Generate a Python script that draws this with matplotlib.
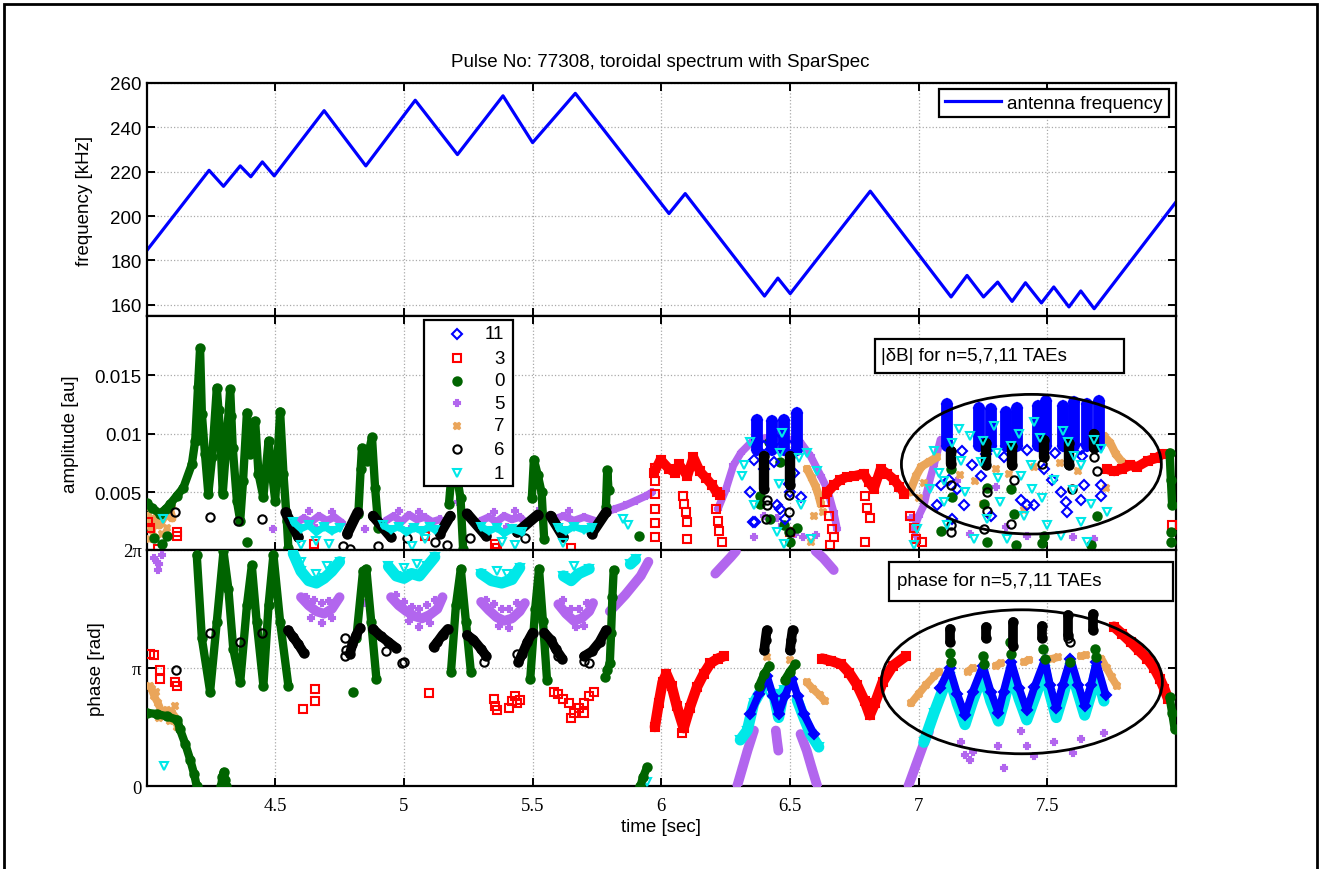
import numpy as np
import matplotlib.pyplot as plt
from matplotlib.patches import Ellipse, Rectangle

plt.rcParams['font.family'] = ['Liberation Sans', 'DejaVu Sans']
SERIF = ['Liberation Serif', 'DejaVu Serif']
FS = 13.5

# ---------------- antenna frequency sweep [kHz] ----------------
ant_time = [4.000, 4.243, 4.299, 4.364, 4.405, 4.450, 4.496, 4.690, 4.852, 5.044, 5.208, 5.385,
            5.500, 5.666, 6.030, 6.093, 6.401, 6.453, 6.501, 6.812, 7.126, 7.188, 7.252, 7.307,
            7.363, 7.415, 7.477, 7.525, 7.584, 7.630, 7.682, 7.997]
ant_freq = [184.3, 220.6, 213.4, 222.6, 217.7, 224.4, 218.1, 247.5, 222.6, 252.2, 227.7, 254.2,
            233.1, 255.3, 201.1, 210.1, 163.9, 172.0, 165.0, 211.2, 163.5, 173.2, 163.5, 170.2,
            161.5, 169.9, 160.8, 168.0, 159.0, 166.2, 158.2, 205.9]

# ---------------- |dB| amplitude, (time, amplitude) ----------------
amp0_tracks = [
    [(4.0, .0041), (4.02, .0037), (4.052, .0032), (4.075, .0036), (4.091, .0040), (4.117, .0047),
     (4.143, .0054), (4.176, .0074), (4.189, .0094), (4.200, .0140), (4.208, .0173), (4.215, .0117),
     (4.227, .0083), (4.240, .0049), (4.255, .0080), (4.273, .0139), (4.286, .0102), (4.296, .0049),
     (4.310, .0090), (4.325, .0138), (4.335, .0088), (4.351, .0043), (4.364, .0026), (4.375, .0060),
     (4.390, .0118), (4.402, .0083), (4.422, .0111), (4.435, .0066), (4.454, .0046), (4.474, .0094),
     (4.487, .0068), (4.500, .0043), (4.519, .0119), (4.532, .0066), (4.545, .0026), (4.551, .0003)],
    [(4.823, .0032), (4.832, .0070), (4.837, .0088), (4.856, .0077), (4.876, .0097), (4.888, .0054),
     (4.901, .0020)],
    [(5.175, .0040), (5.190, .0079), (5.205, .0065), (5.220, .0045), (5.230, .0002)],
    [(5.497, .0045), (5.505, .0078), (5.520, .0065), (5.535, .0050), (5.545, .0010)],
    [(5.785, .0038), (5.790, .0069), (5.795, .0052)],
    [(7.975, .0084), (7.980, .0061), (7.985, .0039)],
]
amp0_pts = [(4.03, .0011), (4.06, .0006), (4.08, .0013), (5.915, .0013), (6.385, .0047), (6.385, .0040),
            (6.418, .0093), (6.424, .0027), (6.463, .0076), (6.476, .0022), (6.495, .0016), (6.502, .0008),
            (6.502, .0067), (6.528, .0020), (7.085, .0017), (7.124, .0070), (7.131, .0046), (7.254, .0040),
            (7.267, .0054), (7.267, .0008), (7.357, .0053), (7.370, .0032), (7.377, .0005), (7.481, .0007),
            (7.487, .0013), (7.668, .0005), (7.694, .0030), (7.98, .0016), (7.98, .0008), (4.39, .0008),
            (4.20, .0095), (4.28, .0120), (4.33, .0115), (4.41, .0100), (4.48, .0080), (4.52, .0090)]

amp3_tracks = [
    [(5.972, .0067), (5.997, .0078), (6.03, .0070), (6.053, .0067), (6.069, .0074), (6.101, .0064),
     (6.125, .0080), (6.150, .0068), (6.175, .0062), (6.198, .0056), (6.215, .0050), (6.23, .0048)],
    [(6.645, .0050), (6.67, .0056), (6.696, .0061), (6.72, .0063), (6.748, .0064), (6.787, .0066),
     (6.806, .0059), (6.826, .0053), (6.852, .0070), (6.878, .0066), (6.904, .0061), (6.925, .0055),
     (6.945, .0049)],
    [(7.73, .0070), (7.76, .0068), (7.79, .0070), (7.82, .0073), (7.85, .0072), (7.89, .0077),
     (7.92, .0079), (7.95, .0083)],
]
amp3_pts = [(4.007, .0025), (4.012, .0020), (4.046, .0002), (4.117, .0013), (4.12, .0016), (4.649, .0006),
            (5.083, .0013), (5.355, .0006), (5.36, .0003), (5.649, .0003), (5.975, .0071), (5.975, .0060),
            (5.977, .0049), (5.977, .0036), (5.975, .0024), (5.976, .0012), (6.085, .0047), (6.09, .0040),
            (6.095, .0033), (6.10, .0025), (6.098, .0010), (6.214, .0036), (6.22, .0026), (6.225, .0017),
            (6.237, .0008), (6.502, .0016), (6.638, .0042), (6.651, .0030), (6.664, .0019), (6.670, .0012),
            (6.655, .0005), (6.793, .0047), (6.80, .0037), (6.81, .0028), (6.793, .0008), (6.968, .0030),
            (6.98, .0020), (6.99, .0010), (7.014, .0008), (7.986, .0022)]

amp5_tracks = [
    [(4.58, .0024), (4.61, .0028), (4.64, .0025), (4.67, .0030), (4.70, .0026), (4.73, .0029), (4.76, .0024)],
    [(4.93, .0026), (4.96, .0030), (4.99, .0025), (5.02, .0031), (5.05, .0027), (5.08, .0029), (5.11, .0025),
     (5.14, .0027)],
    [(5.30, .0026), (5.33, .0029), (5.36, .0025), (5.39, .0030), (5.42, .0027), (5.45, .0029), (5.47, .0025)],
    [(5.58, .0027), (5.62, .0030), (5.66, .0026), (5.70, .0029), (5.74, .0026)],
    [(5.78, .0033), (5.82, .0036), (5.86, .0039), (5.90, .0043), (5.94, .0047), (5.964, .0050)],
    [(6.22, .0036), (6.25, .0052), (6.28, .0073), (6.31, .0084), (6.36, .0095), (6.42, .0097), (6.48, .0096),
     (6.54, .0093), (6.58, .0081), (6.62, .0064), (6.645, .0053), (6.67, .0033), (6.683, .0019)],
    [(6.98, .0018), (7.00, .0030), (7.02, .0039), (7.04, .0058), (7.059, .0073), (7.085, .0095)],
]
amp5_pts = [(4.49, .0019), (4.85, .0019), (5.212, .0042), (5.53, .0036), (6.40, .0030), (6.45, .0028),
            (6.47, .0022), (6.52, .0015), (6.55, .0012), (6.60, .0014), (6.36, .0012), (6.97, .0028),
            (6.99, .0013), (7.2, .0015), (7.27, .0008), (7.34, .0021), (7.42, .0013), (7.48, .0006),
            (7.6, .0012), (7.68, .0010), (7.15, .0060), (7.30, .0055), (4.63, .0034), (4.72, .0033),
            (4.98, .0034), (5.06, .0033), (5.35, .0033), (5.43, .0034), (5.64, .0034), (4.66, .0020),
            (5.03, .0021), (5.40, .0021)]

amp7_tracks = [
    [(4.005, .0030), (4.02, .0018), (4.035, .0028), (4.05, .0022), (4.07, .0030), (4.09, .0036), (4.10, .0028)],
    [(6.567, .0070), (6.585, .0062), (6.60, .0055), (6.612, .0047), (6.62, .0040)],
    [(6.965, .0050), (6.99, .0064), (7.01, .0072), (7.04, .0076), (7.07, .0080)],
    [(7.72, .0098), (7.745, .0092), (7.765, .0083), (7.79, .0076)],
]
amp7_pts = [(4.01, .0010), (4.03, .0012), (4.06, .0015), (4.08, .0020), (4.015, .0038), (4.10, .0039),
            (6.593, .0030), (6.580, .0008), (6.63, .0033), (7.00, .0045), (7.02, .0058), (7.16, .0065),
            (7.22, .0060), (7.30, .0070), (7.35, .0066), (7.45, .0072), (7.55, .0075), (7.62, .0068),
            (7.733, .0070), (7.726, .0054), (7.25, .0040), (7.41, .0035)]

amp11_tracks = [
    [(6.372, .0112), (6.372, .0086)], [(6.431, .0111), (6.431, .0086)],
    [(6.476, .0112), (6.476, .0086)], [(6.528, .0118), (6.528, .0086)],
    [(7.111, .0125), (7.111, .0090)], [(7.234, .0122), (7.234, .0090)], [(7.280, .0121), (7.280, .0090)],
    [(7.338, .0119), (7.338, .0090)], [(7.384, .0122), (7.384, .0090)], [(7.462, .0124), (7.462, .0090)],
    [(7.494, .0128), (7.494, .0090)], [(7.559, .0124), (7.559, .0090)], [(7.604, .0127), (7.604, .0090)],
    [(7.656, .0125), (7.656, .0090)], [(7.701, .0128), (7.701, .0090)],
]
amp11_pts = [(6.359, .0078), (6.366, .0025), (6.463, .0036), (6.495, .0057), (6.502, .0050), (6.515, .0067),
             (6.541, .0046), (6.437, .0076), (6.346, .0050), (6.482, .0027), (6.450, .0039), (6.358, .0025),
             (6.40, .0070), (7.085, .0056), (7.117, .0061), (7.150, .0053), (7.176, .0039), (7.208, .0073),
             (7.241, .0064), (7.396, .0044), (7.448, .0039), (7.487, .0070), (7.520, .0061), (7.571, .0042),
             (7.552, .0050), (7.636, .0081), (7.630, .0044), (7.707, .0056), (7.707, .0047), (7.420, .0039),
             (7.072, .0039), (7.131, .0027), (7.280, .0030), (7.578, .0033), (7.641, .0056), (7.33, .0080),
             (7.17, .0085), (7.26, .0083), (7.42, .0086), (7.53, .0084), (7.63, .0087), (6.40, .0090),
             (6.50, .0090), (6.45, .0095)]

amp6_tracks = [
    [(4.54, .0033), (4.59, .0012)], [(4.78, .0015), (4.82, .0033)], [(4.88, .0030), (4.95, .0012)],
    [(5.14, .0015), (5.18, .0030)], [(5.245, .0032), (5.32, .0013)], [(5.44, .0016), (5.52, .0031)],
    [(5.57, .0030), (5.62, .0012)], [(5.73, .0015), (5.785, .0033)],
    [(6.398, .0081), (6.398, .0053)], [(6.502, .0081), (6.502, .0056)],
    [(7.124, .0085), (7.124, .0074)], [(7.260, .0092), (7.260, .0073)], [(7.364, .0090), (7.364, .0073)],
    [(7.487, .0095), (7.487, .0080)], [(7.584, .0092), (7.584, .0073)], [(7.682, .0100), (7.682, .0088)],
]
amp6_pts = [(4.111, .0033), (4.247, .0029), (4.357, .0026), (4.448, .0027), (4.765, .0004), (4.791, .0002),
            (4.901, .0004), (5.012, .0011), (5.122, .0008), (5.167, .0005), (5.258, .0011), (5.472, .0011),
            (6.411, .0044), (6.405, .0027), (6.411, .0039), (6.495, .0048), (6.495, .0033), (6.502, .0016),
            (7.124, .0056), (7.267, .0050), (7.267, .0034), (7.370, .0061), (7.357, .0023), (7.481, .0074),
            (7.597, .0053), (7.681, .0080), (7.694, .0068), (7.124, .0022), (7.124, .0016), (7.254, .0019)]

amp1_tracks = [
    [(4.57, .0025), (4.60, .0019), (4.63, .0022), (4.66, .0016), (4.69, .0021), (4.72, .0017), (4.75, .0020)],
    [(4.92, .0022), (4.95, .0018), (4.98, .0021), (5.01, .0016), (5.04, .0020), (5.07, .0017), (5.10, .0021),
     (5.12, .0018)],
    [(5.30, .0021), (5.33, .0017), (5.36, .0020), (5.39, .0015), (5.42, .0019), (5.46, .0016)],
    [(5.60, .0020), (5.63, .0017), (5.66, .0021), (5.70, .0018), (5.73, .0020)],
]
amp1_pts = [(4.065, .0027), (4.60, .0005), (4.66, .0009), (4.71, .0006), (5.03, .0004), (5.08, .0010),
            (5.38, .0008), (5.43, .0005), (5.62, .0007), (5.851, .0027), (5.87, .0022),
            (6.346, .0093), (6.32, .0073), (6.314, .0064), (6.359, .0039), (6.456, .0057), (6.463, .0084),
            (6.469, .0101), (6.450, .0016), (6.541, .0039), (6.567, .0084), (6.580, .0010), (6.606, .0068),
            (6.534, .0079), (6.475, .0006), (7.059, .0085), (7.156, .0104), (7.163, .0077), (7.079, .0067),
            (7.098, .0042), (7.111, .0022), (7.046, .0053), (7.292, .0107), (7.241, .0076), (7.306, .0084),
            (7.267, .0027), (7.318, .0042), (7.396, .0064), (7.435, .0073), (7.448, .0110), (7.409, .0030),
            (7.500, .0022), (7.526, .0061), (7.604, .0081), (7.630, .0073), (7.707, .0087), (7.733, .0033),
            (7.630, .0025), (7.656, .0008), (7.214, .0010), (7.344, .0010), (7.442, .0053), (7.552, .0013),
            (6.993, .0019), (6.98, .0005), (7.20, .0098), (7.39, .0100), (7.56, .0102), (7.13, .0092),
            (7.25, .0094), (7.36, .0090), (7.47, .0096), (7.58, .0093), (7.68, .0095), (7.10, .0060),
            (7.18, .0050), (7.31, .0062), (7.48, .0045), (7.60, .0052), (7.67, .0040)]

# ---------------- phase, (time, phase / pi) ----------------
ph0_tracks = [
    [(4.0, .62), (4.04, .61), (4.08, .59), (4.12, .56), (4.13, .48), (4.15, .36), (4.17, .22), (4.185, .10),
     (4.195, 0.0)],
    [(4.195, 1.96), (4.215, 1.25), (4.247, .80), (4.273, 1.39), (4.299, 1.99), (4.318, 1.67), (4.337, 1.16),
     (4.364, .88), (4.39, 1.53), (4.409, 1.87), (4.428, 1.39), (4.454, .85), (4.474, 1.53), (4.493, 1.96),
     (4.519, 1.39), (4.551, .85)],
    [(4.29, 0.0), (4.295, .08), (4.30, .12), (4.305, .05), (4.31, 0.0)],
    [(4.815, 1.25), (4.841, 1.82), (4.854, 1.84), (4.873, 1.39), (4.893, .91)],
    [(5.183, .97), (5.202, 1.53), (5.221, 1.84), (5.241, 1.39), (5.260, .97)],
    [(5.491, .91), (5.51, 1.5), (5.525, 1.84), (5.54, 1.4), (5.556, .90)],
    [(5.790, .98), (5.800, 1.04), (5.805, 1.3), (5.81, 1.6), (5.815, 1.83)],
    [(5.919, 0.0), (5.93, .08), (5.945, .16)],
    [(6.38, .85), (6.40, .95), (6.42, 1.02)],
    [(6.48, .90), (6.50, .97), (6.52, 1.03)],
    [(7.975, .75), (7.985, .62), (7.995, .48)],
]
ph0_pts = [(4.802, .80), (5.78, .92), (7.12, 1.13), (7.125, 1.05), (7.25, 1.10), (7.255, 1.03), (7.355, 1.22),
           (7.36, 1.12), (7.485, 1.16), (7.49, 1.08), (7.59, 1.05), (7.685, 1.16), (7.69, 1.09)]

ph3_tracks = [
    [(5.975, .50), (5.99, .70), (6.005, .88), (6.02, .95), (6.04, .85), (6.06, .68), (6.087, .49),
     (6.11, .66), (6.139, .84), (6.165, .95), (6.191, 1.04), (6.22, 1.08), (6.243, 1.10)],
    [(6.625, 1.08), (6.66, 1.06), (6.70, 1.03), (6.73, .96), (6.76, .86), (6.79, .72), (6.81, .60),
     (6.83, .70), (6.86, .88), (6.90, 1.02), (6.95, 1.10)],
    [(7.759, 1.35), (7.79, 1.29), (7.824, 1.22), (7.855, 1.15), (7.888, 1.08), (7.915, 1.00), (7.937, .91),
     (7.955, .82), (7.969, .74)],
]
ph3_pts = [(4.014, 1.12), (4.029, 1.11), (4.052, .98), (4.052, .91), (4.111, .88), (4.12, .85), (4.606, .65),
           (4.655, .72), (4.655, .82), (5.098, .79), (5.35, .74), (5.355, .68), (5.36, .64), (5.41, .66),
           (5.42, .72), (5.43, .76), (5.44, .70), (5.45, .73), (5.585, .80), (5.60, .78), (5.62, .74),
           (5.64, .70), (5.66, .62), (5.68, .66), (5.70, .70), (5.72, .76), (5.74, .80), (5.65, .58),
           (5.70, .62), (6.08, .45)]

ph5_tracks = [
    [(4.60, 1.60), (4.63, 1.53), (4.66, 1.48), (4.69, 1.46), (4.72, 1.50), (4.75, 1.60)],
    [(4.95, 1.60), (4.98, 1.53), (5.01, 1.48), (5.04, 1.44), (5.07, 1.42), (5.10, 1.45), (5.13, 1.50),
     (5.15, 1.60)],
    [(5.30, 1.56), (5.33, 1.49), (5.36, 1.43), (5.39, 1.40), (5.42, 1.42), (5.45, 1.48), (5.47, 1.55)],
    [(5.60, 1.54), (5.63, 1.46), (5.66, 1.40), (5.69, 1.42), (5.72, 1.48), (5.735, 1.55)],
    [(5.80, 1.48), (5.83, 1.55), (5.86, 1.62), (5.89, 1.70), (5.92, 1.78), (5.95, 1.90)],
    [(6.21, 1.80), (6.24, 1.87), (6.27, 1.94), (6.29, 1.99)],
    [(6.60, 1.99), (6.63, 1.93), (6.67, 1.83)],
    [(6.295, 0.0), (6.315, .15), (6.335, .30), (6.36, .47)],
    [(6.541, .44), (6.565, .30), (6.585, .15), (6.606, 0.0)],
    [(6.445, .47), (6.45, .38), (6.455, .30)],
    [(6.96, 0.0), (6.99, .18), (7.02, .36), (7.04, .46)],
]
ph5_pts = [(4.62, 1.60), (4.65, 1.58), (4.68, 1.55), (4.71, 1.57), (4.64, 1.42), (4.68, 1.38), (4.72, 1.42),
           (4.97, 1.62), (5.00, 1.56), (5.03, 1.52), (5.06, 1.50), (5.09, 1.53), (5.12, 1.58), (5.02, 1.40),
           (5.06, 1.35), (5.10, 1.38), (5.32, 1.58), (5.35, 1.54), (5.38, 1.50), (5.41, 1.50), (5.44, 1.55),
           (5.37, 1.36), (5.41, 1.34), (5.62, 1.58), (5.65, 1.50), (5.68, 1.50), (5.71, 1.55), (5.67, 1.35),
           (5.70, 1.36), (4.03, 1.93), (4.04, 1.90), (4.05, 1.88), (4.06, 1.96), (4.045, 1.83), (4.493, 1.66),
           (4.850, 1.55), (5.212, 1.56), (5.53, 1.62), (7.163, .37), (7.179, .26), (7.211, .29), (7.308, .34),
           (7.396, .47), (7.421, .34), (7.525, .37), (7.63, .40), (7.719, .45), (7.20, .22), (7.33, .15),
           (7.45, .25), (7.60, .28)]

ph7_tracks = [
    [(4.02, .82), (4.03, .76), (4.045, .70), (4.06, .62), (4.08, .64), (4.10, .62), (4.12, .56)],
    [(6.565, .88), (6.59, .82), (6.615, .77), (6.635, .72)],
    [(6.97, .70), (7.00, .78), (7.03, .86), (7.06, .93), (7.08, .97)],
    [(7.19, .97), (7.21, 1.00)], [(7.30, 1.02), (7.32, 1.04)], [(7.41, 1.05), (7.43, 1.07)],
    [(7.52, 1.08), (7.54, 1.09)], [(7.63, 1.10), (7.65, 1.11)],
    [(7.71, 1.08), (7.73, 1.00), (7.75, .92), (7.77, .85)],
]
ph7_pts = [(4.015, .85), (4.035, .80), (4.05, .58), (4.09, .55), (4.11, .68), (4.12, .50), (6.41, 1.09),
           (6.50, 1.07)]

ph11_tracks = [
    [(6.346, .61), (6.38, .78), (6.411, .93), (6.435, .76), (6.456, .61), (6.48, .76), (6.508, .91),
     (6.53, .76), (6.554, .61), (6.593, .44)],
    [(7.083, .83), (7.12, 1.00), (7.15, .78), (7.18, .60), (7.21, .80), (7.25, 1.02), (7.28, .80),
     (7.31, .62), (7.33, .80), (7.36, 1.05), (7.39, .83), (7.42, .64), (7.45, .84), (7.49, 1.07),
     (7.51, .86), (7.535, .66), (7.56, .86), (7.59, 1.08), (7.62, .86), (7.645, .68), (7.67, .86),
     (7.69, 1.05), (7.727, .77)],
]
ph11_pts = []

ph6_tracks = [
    [(4.55, 1.32), (4.57, 1.26), (4.59, 1.20), (4.61, 1.13)],
    [(4.79, 1.12), (4.80, 1.20), (4.815, 1.28), (4.83, 1.34)],
    [(4.88, 1.33), (4.91, 1.27), (4.94, 1.22), (4.97, 1.17)],
    [(5.115, 1.18), (5.13, 1.22), (5.15, 1.28), (5.17, 1.33)],
    [(5.245, 1.28), (5.27, 1.24), (5.30, 1.16), (5.32, 1.10)],
    [(5.445, 1.05), (5.46, 1.12), (5.48, 1.22), (5.50, 1.30)],
    [(5.545, 1.30), (5.57, 1.24), (5.59, 1.16), (5.615, 1.08)],
    [(5.70, 1.10), (5.73, 1.14), (5.76, 1.22), (5.785, 1.32)],
    [(6.40, 1.15), (6.405, 1.24), (6.41, 1.32)],
    [(6.50, 1.15), (6.505, 1.24), (6.51, 1.32)],
    [(7.123, 1.22), (7.123, 1.33)], [(7.26, 1.25), (7.26, 1.35)], [(7.365, 1.19), (7.365, 1.39)],
    [(7.478, 1.25), (7.478, 1.36)], [(7.582, 1.28), (7.582, 1.45)], [(7.679, 1.32), (7.679, 1.46)],
]
ph6_pts = [(4.115, .98), (4.247, 1.30), (4.364, 1.22), (4.45, 1.30), (4.77, 1.25), (4.775, 1.15),
           (4.77, 1.10), (4.992, 1.04), (5.00, 1.05), (4.93, 1.14), (5.31, 1.05), (5.44, 1.12),
           (5.60, 1.10), (5.70, 1.06), (5.72, 1.04), (7.58, 1.25), (7.59, 1.22)]

ph1_tracks = [
    [(4.57, 1.97), (4.60, 1.82), (4.63, 1.74), (4.66, 1.72), (4.69, 1.76), (4.72, 1.82), (4.75, 1.90)],
    [(4.94, 1.86), (4.97, 1.78), (5.00, 1.76), (5.03, 1.80), (5.06, 1.78), (5.09, 1.86), (5.12, 1.94)],
    [(5.30, 1.80), (5.34, 1.74), (5.38, 1.72), (5.42, 1.75), (5.45, 1.85)],
    [(5.62, 1.78), (5.65, 1.74), (5.68, 1.80), (5.72, 1.84)],
    [(5.88, 1.88), (5.90, 1.92)],
    [(6.307, .39), (6.334, .47), (6.359, .70), (6.39, .82)],
    [(6.437, .78), (6.456, .58), (6.476, .81)],
    [(6.528, .73), (6.554, .58), (6.58, .44), (6.612, .33)],
    [(7.02, .37), (7.06, .62), (7.10, .85), (7.12, .92), (7.15, .70), (7.18, .52), (7.21, .72), (7.25, .95),
     (7.28, .72), (7.31, .55), (7.33, .70), (7.36, .97), (7.39, .74), (7.42, .56), (7.45, .74), (7.49, .98),
     (7.51, .78), (7.535, .58), (7.56, .76), (7.59, 1.0), (7.62, .78), (7.645, .60), (7.67, .78),
     (7.69, .98), (7.72, .72)],
]
ph1_pts = [(4.066, .17), (5.945, .03), (4.60, 1.90), (4.66, 1.80), (4.70, 1.86), (5.00, 1.85), (5.05, 1.88),
           (5.36, 1.82), (5.40, 1.80), (5.66, 1.86), (6.40, .88), (6.42, .78)]

# mode number -> colour, marker, filled
styles = {
    11: ('#0000ff', 'D', False),
    3: ('#ff0000', 's', False),
    0: ('#006400', 'o', True),
    5: ('#b266ee', 'P', True),
    7: ('#eaa55a', 'X', True),
    6: ('#000000', 'o', False),
    1: ('#00e8e8', 'v', False),
}
legend_order = [11, 3, 0, 5, 7, 6, 1]
# thicker strokes for the dense clusters
amp_lw = {0: 6.0, 3: 7.0, 5: 5.5, 7: 6.0, 11: 8.5, 6: 7.5, 1: 5.0}
ph_lw = {0: 6.0, 3: 7.5, 5: 7.0, 7: 5.5, 11: 5.5, 6: 7.0, 1: 8.0}


def draw_mode(ax, n, tracks, pts, scale=1.0, lw=5.5):
    color, marker, filled = styles[n]
    mfc = color if filled else 'none'
    ms = 5.0 if marker in ('D', 'P', 'X') else 6.0
    for tr in tracks:
        t, v = np.array(tr).T
        ax.plot(t, v * scale, '-', color=color, lw=lw, solid_capstyle='round',
                solid_joinstyle='round', zorder=3)
        ax.plot(t, v * scale, ls='none', marker=marker, ms=ms, mfc=mfc, mec=color, mew=1.5, zorder=3)
    if pts:
        t, v = np.array(pts).T
        ax.plot(t, v * scale, ls='none', marker=marker, ms=ms, mfc=mfc, mec=color, mew=1.5, zorder=3)


fig = plt.figure(figsize=(13.19, 8.70), dpi=100)
left, width = 0.1111, 0.7805
ax_f = fig.add_axes([left, 0.6351, width, 0.2684])
ax_a = fig.add_axes([left, 0.3667, width, 0.2684], sharex=ax_f)
ax_p = fig.add_axes([left, 0.0954, width, 0.2713], sharex=ax_f)

for ax in (ax_f, ax_a, ax_p):
    ax.set_xlim(4.0, 8.0)
    ax.set_xticks([4.5, 5.0, 5.5, 6.0, 6.5, 7.0, 7.5])
    ax.grid(True, ls=':', color='#aaaaaa', lw=0.9)
    ax.set_axisbelow(True)
    ax.tick_params(direction='in', length=6, width=1.4, top=True, right=True, labelsize=FS)
    for sp in ax.spines.values():
        sp.set_linewidth(1.6)
for ax in (ax_f, ax_a):
    ax.tick_params(labelbottom=False)

# frequency panel
ax_f.plot(ant_time, ant_freq, color='#0000ff', lw=2.3, label='antenna frequency')
ax_f.set_ylim(154.7, 260)
ax_f.set_yticks([160, 180, 200, 220, 240, 260])
ax_f.set_ylabel('frequency [kHz]', fontsize=FS)
ax_f.yaxis.set_label_coords(-0.052, 0.5)
leg = ax_f.legend(loc='upper right', bbox_to_anchor=(0.9927, 0.9743), borderaxespad=0,
                  fontsize=FS, handlelength=3.0, handletextpad=0.35, borderpad=0.3,
                  fancybox=False, framealpha=1)
leg.get_frame().set_edgecolor('black')
leg.get_frame().set_linewidth(1.6)

# amplitude panel
amp_data = {0: (amp0_tracks, amp0_pts), 3: (amp3_tracks, amp3_pts), 5: (amp5_tracks, amp5_pts),
            7: (amp7_tracks, amp7_pts), 11: (amp11_tracks, amp11_pts), 6: (amp6_tracks, amp6_pts),
            1: (amp1_tracks, amp1_pts)}
for n in [5, 7, 3, 0, 11, 6, 1]:
    draw_mode(ax_a, n, *amp_data[n], lw=amp_lw[n])
ax_a.set_ylim(0.0001, 0.02)
ax_a.set_yticks([0.005, 0.01, 0.015])
ax_a.set_yticklabels(['0.005', '0.01', '0.015'])
ax_a.set_ylabel('amplitude [au]', fontsize=FS)
ax_a.yaxis.set_label_coords(-0.066, 0.5)
ax_a.add_patch(Ellipse((7.438, 0.00741), 1.010, 0.0119, fill=False, ec='black', lw=2.0, zorder=6))

# legend box drawn in axes fraction
ax_a.add_patch(Rectangle((0.2695, 0.2754), 0.0868, 0.7096, transform=ax_a.transAxes,
                         fc='white', ec='black', lw=1.6, zorder=8))
for n, yy in zip(legend_order, [0.925, 0.821, 0.725, 0.628, 0.532, 0.432, 0.328]):
    color, marker, filled = styles[n]
    ax_a.plot([0.3013], [yy], transform=ax_a.transAxes, ls='none', marker=marker,
              ms=5.0 if marker in ('D', 'P', 'X') else 6.0, mfc=color if filled else 'none',
              mec=color, mew=1.5, zorder=9, clip_on=False)
    ax_a.text(0.3476, yy, str(n), transform=ax_a.transAxes, ha='right', va='center',
              fontsize=FS, zorder=9)

ax_a.add_patch(Rectangle((0.7076, 0.758), 0.2419, 0.1456, transform=ax_a.transAxes,
                         fc='white', ec='black', lw=1.6, zorder=8))
ax_a.text(0.7138, 0.8308, '|\u03b4B| for n=5,7,11 TAEs', transform=ax_a.transAxes,
          ha='left', va='center', fontsize=FS, zorder=9)

# phase panel
ph_data = {0: (ph0_tracks, ph0_pts), 3: (ph3_tracks, ph3_pts), 5: (ph5_tracks, ph5_pts),
           7: (ph7_tracks, ph7_pts), 11: (ph11_tracks, ph11_pts), 6: (ph6_tracks, ph6_pts),
           1: (ph1_tracks, ph1_pts)}
for n in [5, 7, 3, 1, 11, 0, 6]:
    draw_mode(ax_p, n, *ph_data[n], scale=np.pi, lw=ph_lw[n])
ax_p.set_ylim(0, 2 * np.pi)
ax_p.set_yticks([0, np.pi, 2 * np.pi])
ax_p.set_yticklabels(['0', '\u03c0', '2\u03c0'], family=SERIF, fontsize=FS)
ax_p.set_xticklabels(['4.5', '5', '5.5', '6', '6.5', '7', '7.5'], family=SERIF, fontsize=FS)
ax_p.tick_params(axis='x', pad=8)
ax_p.set_ylabel('phase [rad]', fontsize=FS)
ax_p.yaxis.set_label_coords(-0.040, 0.5)
ax_p.set_xlabel('time [sec]', fontsize=FS, labelpad=3)
ax_p.add_patch(Ellipse((7.401, 0.883 * np.pi), 1.092, 1.220 * np.pi, fill=False, ec='black',
                       lw=2.0, zorder=6))
ax_p.add_patch(Rectangle((0.7212, 0.785), 0.2763, 0.1654, transform=ax_p.transAxes,
                         fc='white', ec='black', lw=1.6, zorder=8))
ax_p.text(0.729, 0.8686, 'phase for n=5,7,11 TAEs', transform=ax_p.transAxes,
          ha='left', va='center', fontsize=FS, zorder=9)

fig.text(0.5004, 0.9287, 'Pulse No: 77308, toroidal spectrum with SparSpec', ha='center',
         va='center', fontsize=FS)

# outer frame
fig.add_artist(Rectangle((4 / 1319, -0.02), 1313 / 1319, 1.0 - 5 / 870 + 0.02,
                         transform=fig.transFigure, fill=False, ec='black', lw=2.0))

fig.savefig('out.png', dpi=100)
